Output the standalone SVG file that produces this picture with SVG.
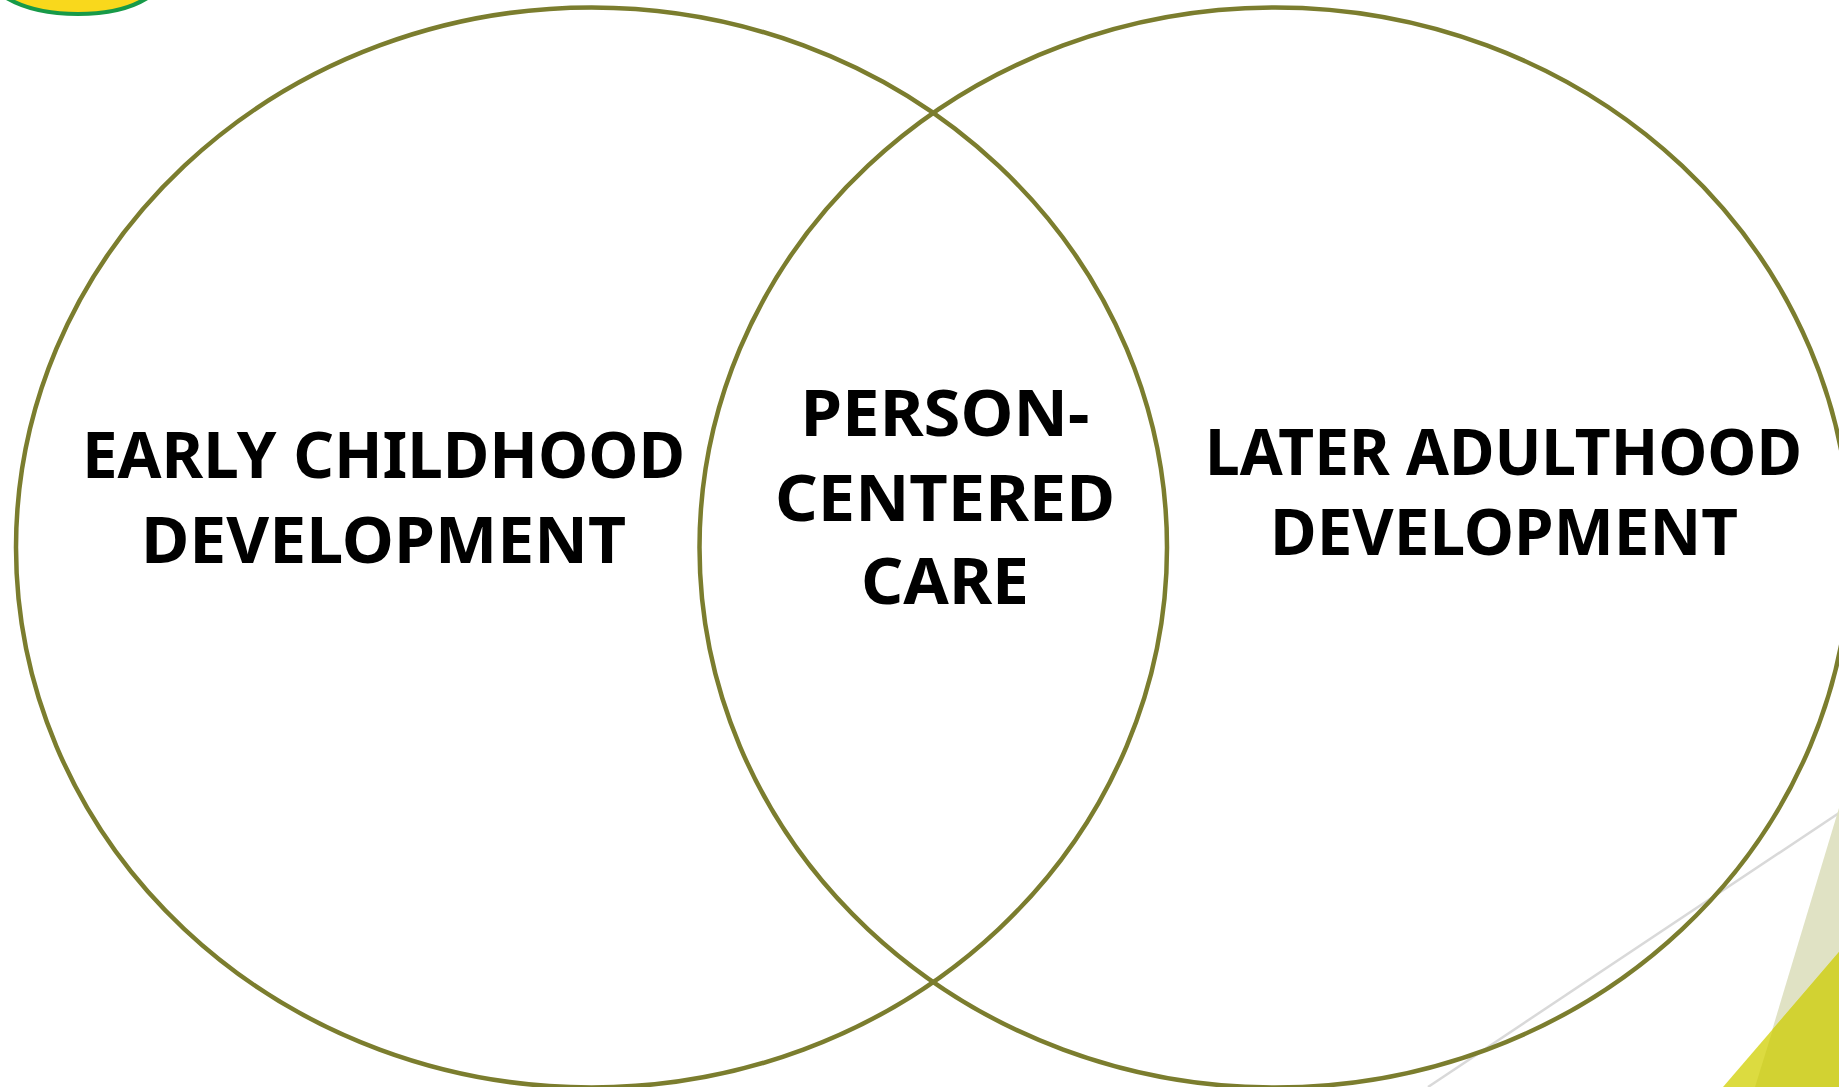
<svg xmlns="http://www.w3.org/2000/svg" width="1839" height="1087" viewBox="0 0 1839 1087">
<style>
.c{fill:none;stroke:#7b7d2e;stroke-width:4.5}
.t{font-family:"Noto Sans","Open Sans",sans-serif;font-weight:700;font-size:64px;fill:#000;text-anchor:middle}
</style>
<rect width="1839" height="1087" fill="#fff"/>
<g id="logo">
<path d="M6 0Q34 16 78 16Q122 16 148 0Z" fill="#179a48"/>
<path d="M15 0Q40 12 78 12Q116 12 139 0Z" fill="#f9d81c"/>
</g>
<g id="background">
<line x1="1428" y1="1087" x2="1839" y2="813" stroke="#d9d9d9" stroke-width="2.500"/>
<polygon points="1839,808 1839,1087 1755,1087" fill="#e0e2c4"/>
<polygon points="1839,952 1839,1087 1723,1087" fill="#dcdb40"/>
<polygon points="1839,952 1839,1087 1755,1087 1773,1029" fill="#d2d232"/>
</g>
<g id="connectors"/>
<g id="left"><ellipse class="c" cx="591.500" cy="547.500" rx="575.500" ry="540"/>
<text class="t" x="383.500" y="477.500" textLength="603" lengthAdjust="spacingAndGlyphs">EARLY CHILDHOOD</text>
<text class="t" x="383.500" y="562.500" textLength="485" lengthAdjust="spacingAndGlyphs">DEVELOPMENT</text></g>
<g id="right"><ellipse class="c" cx="1275" cy="547.500" rx="575.500" ry="540"/>
<text class="t" x="1503.500" y="474.500" textLength="597" lengthAdjust="spacingAndGlyphs">LATER ADULTHOOD</text>
<text class="t" x="1504" y="554.500" textLength="468" lengthAdjust="spacingAndGlyphs">DEVELOPMENT</text></g>
<g id="center">
<text class="t" x="945" y="435.500" textLength="289" lengthAdjust="spacingAndGlyphs">PERSON-</text>
<text class="t" x="945" y="520.500" textLength="340" lengthAdjust="spacingAndGlyphs">CENTERED</text>
<text class="t" x="945" y="603.500" textLength="168" lengthAdjust="spacingAndGlyphs">CARE</text>
</g>
</svg>
